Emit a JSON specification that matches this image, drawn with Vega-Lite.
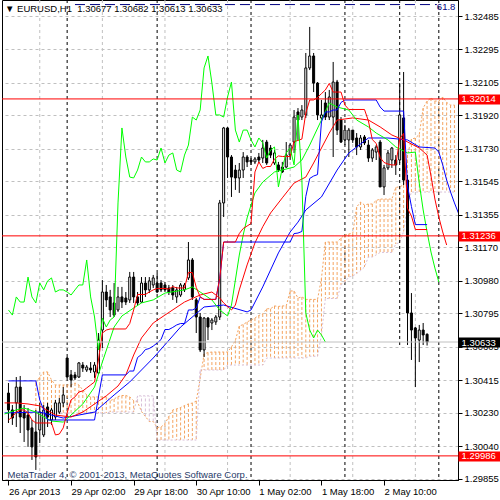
{
"$schema":"https://vega.github.io/schema/vega-lite/v6.json",
"width":456,"height":480,"autosize":"none",
"padding":{"left":2,"top":0,"right":42,"bottom":20},
"background":"white",
"view":{"stroke":"black","strokeWidth":1},
"config":{"font":"Liberation Sans"},
"title":{"text":"▼ EURUSD,H1\u00a0 1.30677 1.30682 1.30613 1.30633","anchor":"start","frame":"group","orient":"top","offset":-14,"dx":3,"font":"Liberation Sans","fontSize":9.5,"fontWeight":"normal","color":"black"},
"resolve":{"axis":{"x":"independent","y":"independent"}},
"datasets":{
"vgrid":[{"i":8},{"i":24},{"i":40},{"i":56},{"i":72},{"i":88},{"i":104}],
"seps":[{"i":15},{"i":38},{"i":62},{"i":86},{"i":110}],
"vline":[{"i":100,"p0":1.32576,"p1":1.30604}],
"fibo":[{"level":"61.8","p":1.3255,"from":17,"to":109.5}],
"candles":[
{"i":0,"o":1.30343,"h":1.30400,"l":1.30173,"c":1.30247},
{"i":1,"o":1.30247,"h":1.30275,"l":1.30162,"c":1.30201},
{"i":2,"o":1.30287,"h":1.30434,"l":1.30150,"c":1.30377},
{"i":3,"o":1.30377,"h":1.30440,"l":1.30116,"c":1.30207},
{"i":4,"o":1.30235,"h":1.30275,"l":1.30065,"c":1.30201},
{"i":5,"o":1.30218,"h":1.30258,"l":1.30037,"c":1.30133},
{"i":6,"o":1.30145,"h":1.30190,"l":1.29963,"c":1.30037},
{"i":7,"o":1.30122,"h":1.30247,"l":1.29906,"c":1.29980},
{"i":8,"o":1.30133,"h":1.30287,"l":1.30059,"c":1.30235},
{"i":9,"o":1.30105,"h":1.30275,"l":1.30093,"c":1.30247},
{"i":10,"o":1.30264,"h":1.30287,"l":1.30150,"c":1.30207},
{"i":11,"o":1.30190,"h":1.30258,"l":1.30162,"c":1.30247},
{"i":12,"o":1.30207,"h":1.30304,"l":1.30190,"c":1.30287},
{"i":13,"o":1.30235,"h":1.30315,"l":1.30224,"c":1.30287},
{"i":14,"o":1.30287,"h":1.30377,"l":1.30264,"c":1.30332},
{"i":15,"o":1.30542,"h":1.30548,"l":1.30429,"c":1.30434},
{"i":16,"o":1.30446,"h":1.30474,"l":1.30377,"c":1.30417},
{"i":17,"o":1.30446,"h":1.30463,"l":1.30417,"c":1.30429},
{"i":18,"o":1.30434,"h":1.30519,"l":1.30429,"c":1.30514},
{"i":19,"o":1.30502,"h":1.30519,"l":1.30463,"c":1.30485},
{"i":20,"o":1.30474,"h":1.30502,"l":1.30463,"c":1.30491},
{"i":21,"o":1.30485,"h":1.30519,"l":1.30457,"c":1.30474},
{"i":22,"o":1.30463,"h":1.30519,"l":1.30429,"c":1.30502},
{"i":23,"o":1.30457,"h":1.30684,"l":1.30446,"c":1.30644},
{"i":24,"o":1.30701,"h":1.30985,"l":1.30599,"c":1.30917},
{"i":25,"o":1.30917,"h":1.30957,"l":1.30832,"c":1.30872},
{"i":26,"o":1.30889,"h":1.30929,"l":1.30775,"c":1.30815},
{"i":27,"o":1.30855,"h":1.30968,"l":1.30775,"c":1.30786},
{"i":28,"o":1.30815,"h":1.30946,"l":1.30804,"c":1.30889},
{"i":29,"o":1.30889,"h":1.30946,"l":1.30826,"c":1.30860},
{"i":30,"o":1.30883,"h":1.30917,"l":1.30843,"c":1.30860},
{"i":31,"o":1.30872,"h":1.31031,"l":1.30855,"c":1.31002},
{"i":32,"o":1.31002,"h":1.31031,"l":1.30855,"c":1.30889},
{"i":33,"o":1.30889,"h":1.30917,"l":1.30843,"c":1.30855},
{"i":34,"o":1.30860,"h":1.31002,"l":1.30855,"c":1.30968},
{"i":35,"o":1.30968,"h":1.31002,"l":1.30889,"c":1.30929},
{"i":36,"o":1.30929,"h":1.31002,"l":1.30911,"c":1.30980},
{"i":37,"o":1.30957,"h":1.31014,"l":1.30940,"c":1.30997},
{"i":38,"o":1.30968,"h":1.31025,"l":1.30911,"c":1.30917},
{"i":39,"o":1.30968,"h":1.30985,"l":1.30917,"c":1.30929},
{"i":40,"o":1.30957,"h":1.30974,"l":1.30917,"c":1.30929},
{"i":41,"o":1.30940,"h":1.30957,"l":1.30900,"c":1.30917},
{"i":42,"o":1.30940,"h":1.30957,"l":1.30872,"c":1.30900},
{"i":43,"o":1.30889,"h":1.30946,"l":1.30855,"c":1.30929},
{"i":44,"o":1.30900,"h":1.30968,"l":1.30889,"c":1.30957},
{"i":45,"o":1.30929,"h":1.30968,"l":1.30917,"c":1.30957},
{"i":46,"o":1.30997,"h":1.31201,"l":1.30985,"c":1.31099},
{"i":47,"o":1.31099,"h":1.31110,"l":1.30872,"c":1.30889},
{"i":48,"o":1.30872,"h":1.30883,"l":1.30684,"c":1.30775},
{"i":49,"o":1.30775,"h":1.30798,"l":1.30576,"c":1.30588},
{"i":50,"o":1.30588,"h":1.30775,"l":1.30548,"c":1.30769},
{"i":51,"o":1.30769,"h":1.30775,"l":1.30644,"c":1.30718},
{"i":52,"o":1.30741,"h":1.30769,"l":1.30701,"c":1.30758},
{"i":53,"o":1.30747,"h":1.30786,"l":1.30730,"c":1.30775},
{"i":54,"o":1.30775,"h":1.31440,"l":1.30758,"c":1.31423},
{"i":55,"o":1.31423,"h":1.31855,"l":1.31343,"c":1.31849},
{"i":56,"o":1.31849,"h":1.31855,"l":1.31565,"c":1.31684},
{"i":57,"o":1.31684,"h":1.31695,"l":1.31457,"c":1.31570},
{"i":58,"o":1.31610,"h":1.31639,"l":1.31497,"c":1.31565},
{"i":59,"o":1.31565,"h":1.31650,"l":1.31480,"c":1.31610},
{"i":60,"o":1.31610,"h":1.31712,"l":1.31565,"c":1.31684},
{"i":61,"o":1.31684,"h":1.31695,"l":1.31627,"c":1.31656},
{"i":62,"o":1.31667,"h":1.31678,"l":1.31639,"c":1.31656},
{"i":63,"o":1.31656,"h":1.31684,"l":1.31644,"c":1.31673},
{"i":64,"o":1.31684,"h":1.31707,"l":1.31650,"c":1.31667},
{"i":65,"o":1.31678,"h":1.31781,"l":1.31650,"c":1.31735},
{"i":66,"o":1.31769,"h":1.31781,"l":1.31639,"c":1.31650},
{"i":67,"o":1.31735,"h":1.31752,"l":1.31678,"c":1.31695},
{"i":68,"o":1.31650,"h":1.31724,"l":1.31639,"c":1.31707},
{"i":69,"o":1.31639,"h":1.31656,"l":1.31599,"c":1.31610},
{"i":70,"o":1.31627,"h":1.31656,"l":1.31593,"c":1.31599},
{"i":71,"o":1.31627,"h":1.31769,"l":1.31622,"c":1.31695},
{"i":72,"o":1.31695,"h":1.31764,"l":1.31667,"c":1.31752},
{"i":73,"o":1.31769,"h":1.31951,"l":1.31707,"c":1.31911},
{"i":74,"o":1.31940,"h":1.31962,"l":1.31781,"c":1.31894},
{"i":75,"o":1.31911,"h":1.31979,"l":1.31894,"c":1.31951},
{"i":76,"o":1.31923,"h":1.32275,"l":1.31906,"c":1.32190},
{"i":77,"o":1.32190,"h":1.32423,"l":1.32178,"c":1.32258},
{"i":78,"o":1.32258,"h":1.32275,"l":1.32053,"c":1.32104},
{"i":79,"o":1.32104,"h":1.32110,"l":1.31894,"c":1.31923},
{"i":80,"o":1.31906,"h":1.32008,"l":1.31894,"c":1.31923},
{"i":81,"o":1.31991,"h":1.32053,"l":1.31894,"c":1.31911},
{"i":82,"o":1.31911,"h":1.32065,"l":1.31894,"c":1.32025},
{"i":83,"o":1.31911,"h":1.32224,"l":1.31684,"c":1.32110},
{"i":84,"o":1.32110,"h":1.32122,"l":1.31809,"c":1.31837},
{"i":85,"o":1.31894,"h":1.31911,"l":1.31764,"c":1.31769},
{"i":86,"o":1.31781,"h":1.31866,"l":1.31752,"c":1.31837},
{"i":87,"o":1.31781,"h":1.31849,"l":1.31684,"c":1.31837},
{"i":88,"o":1.31837,"h":1.31837,"l":1.31764,"c":1.31781},
{"i":89,"o":1.31792,"h":1.31820,"l":1.31695,"c":1.31741},
{"i":90,"o":1.31741,"h":1.31809,"l":1.31724,"c":1.31792},
{"i":91,"o":1.31798,"h":1.31809,"l":1.31752,"c":1.31764},
{"i":92,"o":1.31752,"h":1.31781,"l":1.31656,"c":1.31678},
{"i":93,"o":1.31678,"h":1.31735,"l":1.31656,"c":1.31724},
{"i":94,"o":1.31712,"h":1.31752,"l":1.31667,"c":1.31741},
{"i":95,"o":1.31769,"h":1.31781,"l":1.31514,"c":1.31514},
{"i":96,"o":1.31514,"h":1.31639,"l":1.31468,"c":1.31622},
{"i":97,"o":1.31622,"h":1.31724,"l":1.31610,"c":1.31707},
{"i":98,"o":1.31667,"h":1.31741,"l":1.31622,"c":1.31735},
{"i":99,"o":1.31667,"h":1.31695,"l":1.31582,"c":1.31639},
{"i":100,"o":1.31667,"h":1.32104,"l":1.31650,"c":1.31923},
{"i":101,"o":1.31906,"h":1.32167,"l":1.31525,"c":1.31553},
{"i":102,"o":1.31553,"h":1.31582,"l":1.30616,"c":1.30798},
{"i":103,"o":1.30798,"h":1.30911,"l":1.30531,"c":1.30701},
{"i":104,"o":1.30713,"h":1.30718,"l":1.30377,"c":1.30656},
{"i":105,"o":1.30644,"h":1.30730,"l":1.30519,"c":1.30701},
{"i":106,"o":1.30701,"h":1.30741,"l":1.30616,"c":1.30673},
{"i":107,"o":1.30677,"h":1.30682,"l":1.30613,"c":1.30633}
],
"tenkan":[
{"i":0,"v":1.30190},{"i":1,"v":1.30207},{"i":2,"v":1.30235},{"i":3,"v":1.30247},{"i":4,"v":1.30247},{"i":5,"v":1.30230},{"i":6,"v":1.30190},{"i":7,"v":1.30173},{"i":11,"v":1.30173},{"i":12,"v":1.30105},{"i":13,"v":1.30110},{"i":14,"v":1.30145},{"i":15,"v":1.30230},{"i":16,"v":1.30304},{"i":17,"v":1.30321},{"i":18,"v":1.30349},{"i":19,"v":1.30355},{"i":20,"v":1.30372},{"i":21,"v":1.30389},{"i":22,"v":1.30406},{"i":23,"v":1.30531},{"i":24,"v":1.30684},{"i":25,"v":1.30701},{"i":26,"v":1.30707},{"i":30,"v":1.30707},{"i":31,"v":1.30738},{"i":32,"v":1.30815},{"i":33,"v":1.30903},{"i":35,"v":1.30903},{"i":36,"v":1.30917},{"i":37,"v":1.30929},{"i":38,"v":1.30937},{"i":40,"v":1.30937},{"i":41,"v":1.30934},{"i":42,"v":1.30948},{"i":43,"v":1.30940},{"i":45,"v":1.30940},{"i":46,"v":1.31028},{"i":47,"v":1.31028},{"i":48,"v":1.30943},{"i":49,"v":1.30889},{"i":50,"v":1.30875},{"i":53,"v":1.30875},{"i":54,"v":1.30994},{"i":55,"v":1.31201},{"i":58,"v":1.31201},{"i":59,"v":1.31249},{"i":60,"v":1.31278},{"i":61,"v":1.31292},{"i":62,"v":1.31306},{"i":63,"v":1.31599},{"i":64,"v":1.31656},{"i":65,"v":1.31619},{"i":66,"v":1.31630},{"i":67,"v":1.31630},{"i":68,"v":1.31673},{"i":69,"v":1.31690},{"i":70,"v":1.31687},{"i":72,"v":1.31687},{"i":73,"v":1.31772},{"i":74,"v":1.31778},{"i":75,"v":1.31786},{"i":76,"v":1.31934},{"i":77,"v":1.32008},{"i":78,"v":1.32008},{"i":79,"v":1.32022},{"i":80,"v":1.32044},{"i":81,"v":1.32065},{"i":82,"v":1.32102},{"i":83,"v":1.32053},{"i":85,"v":1.32053},{"i":86,"v":1.31979},{"i":87,"v":1.31954},{"i":91,"v":1.31954},{"i":92,"v":1.31889},{"i":93,"v":1.31783},{"i":94,"v":1.31761},{"i":95,"v":1.31681},{"i":96,"v":1.31653},{"i":97,"v":1.31644},{"i":98,"v":1.31639},{"i":99,"v":1.31639},{"i":100,"v":1.31786},{"i":101,"v":1.31818},{"i":102,"v":1.31392},{"i":103,"v":1.31349},{"i":104,"v":1.31272},{"i":107,"v":1.31272}
],
"kijun":[
{"i":0,"v":1.30412},{"i":7,"v":1.30412},{"i":8,"v":1.30304},{"i":9,"v":1.30247},{"i":10,"v":1.30190},{"i":22,"v":1.30190},{"i":23,"v":1.30321},{"i":24,"v":1.30446},{"i":30,"v":1.30446},{"i":31,"v":1.30468},{"i":32,"v":1.30468},{"i":33,"v":1.30545},{"i":34,"v":1.30562},{"i":35,"v":1.30590},{"i":36,"v":1.30596},{"i":37,"v":1.30610},{"i":38,"v":1.30627},{"i":39,"v":1.30647},{"i":40,"v":1.30704},{"i":41,"v":1.30704},{"i":42,"v":1.30716},{"i":43,"v":1.30730},{"i":44,"v":1.30738},{"i":45,"v":1.30738},{"i":46,"v":1.30815},{"i":47,"v":1.30815},{"i":48,"v":1.30825},{"i":49,"v":1.30889},{"i":50,"v":1.30875},{"i":53,"v":1.30875},{"i":54,"v":1.30994},{"i":55,"v":1.31201},{"i":72,"v":1.31201},{"i":73,"v":1.31249},{"i":74,"v":1.31252},{"i":75,"v":1.31261},{"i":76,"v":1.31460},{"i":77,"v":1.31562},{"i":78,"v":1.31576},{"i":79,"v":1.31584},{"i":80,"v":1.31883},{"i":81,"v":1.31940},{"i":82,"v":1.31940},{"i":83,"v":1.31951},{"i":84,"v":1.31951},{"i":85,"v":1.31994},{"i":86,"v":1.32008},{"i":94,"v":1.32008},{"i":95,"v":1.31968},{"i":96,"v":1.31945},{"i":101,"v":1.31945},{"i":102,"v":1.31519},{"i":103,"v":1.31403},{"i":104,"v":1.31300},{"i":107,"v":1.31300}
],
"chikou":[
{"i":0,"v":1.30815},{"i":1,"v":1.30786},{"i":2,"v":1.30889},{"i":3,"v":1.30860},{"i":4,"v":1.30860},{"i":5,"v":1.31002},{"i":6,"v":1.30889},{"i":7,"v":1.30855},{"i":8,"v":1.30968},{"i":9,"v":1.30929},{"i":10,"v":1.30980},{"i":11,"v":1.30997},{"i":12,"v":1.30917},{"i":13,"v":1.30929},{"i":14,"v":1.30929},{"i":15,"v":1.30917},{"i":16,"v":1.30900},{"i":17,"v":1.30929},{"i":18,"v":1.30957},{"i":19,"v":1.30957},{"i":20,"v":1.31099},{"i":21,"v":1.30889},{"i":22,"v":1.30775},{"i":23,"v":1.30588},{"i":24,"v":1.30769},{"i":25,"v":1.30718},{"i":26,"v":1.30758},{"i":27,"v":1.30775},{"i":28,"v":1.31423},{"i":29,"v":1.31849},{"i":30,"v":1.31684},{"i":31,"v":1.31570},{"i":32,"v":1.31565},{"i":33,"v":1.31610},{"i":34,"v":1.31684},{"i":35,"v":1.31656},{"i":36,"v":1.31656},{"i":37,"v":1.31673},{"i":38,"v":1.31667},{"i":39,"v":1.31735},{"i":40,"v":1.31650},{"i":41,"v":1.31695},{"i":42,"v":1.31707},{"i":43,"v":1.31610},{"i":44,"v":1.31599},{"i":45,"v":1.31695},{"i":46,"v":1.31752},{"i":47,"v":1.31911},{"i":48,"v":1.31894},{"i":49,"v":1.31951},{"i":50,"v":1.32190},{"i":51,"v":1.32258},{"i":52,"v":1.32104},{"i":53,"v":1.31923},{"i":54,"v":1.31923},{"i":55,"v":1.31911},{"i":56,"v":1.32025},{"i":57,"v":1.32110},{"i":58,"v":1.31837},{"i":59,"v":1.31769},{"i":60,"v":1.31837},{"i":61,"v":1.31837},{"i":62,"v":1.31781},{"i":63,"v":1.31741},{"i":64,"v":1.31792},{"i":65,"v":1.31764},{"i":66,"v":1.31678},{"i":67,"v":1.31724},{"i":68,"v":1.31741},{"i":69,"v":1.31514},{"i":70,"v":1.31622},{"i":71,"v":1.31707},{"i":72,"v":1.31735},{"i":73,"v":1.31639},{"i":74,"v":1.31923},{"i":75,"v":1.31553},{"i":76,"v":1.30798},{"i":77,"v":1.30701},{"i":78,"v":1.30656},{"i":79,"v":1.30701},{"i":80,"v":1.30673},{"i":81,"v":1.30633}
],
"jaw":[
{"i":-1,"v":1.30230},{"i":8,"v":1.30235},{"i":14,"v":1.30201},{"i":22,"v":1.30235},{"i":27,"v":1.30332},{"i":31,"v":1.30406},{"i":37,"v":1.30542},{"i":44,"v":1.30718},{"i":50,"v":1.30832},{"i":55,"v":1.30843},{"i":61,"v":1.30804},{"i":62,"v":1.30815},{"i":65,"v":1.30946},{"i":69,"v":1.31139},{"i":72,"v":1.31258},{"i":74,"v":1.31314},{"i":76,"v":1.31383},{"i":80,"v":1.31457},{"i":84,"v":1.31610},{"i":87,"v":1.31707},{"i":92,"v":1.31792},{"i":97,"v":1.31792},{"i":102,"v":1.31781},{"i":105,"v":1.31741},{"i":109,"v":1.31735},{"i":110,"v":1.31712},{"i":111,"v":1.31639},{"i":112,"v":1.31553},{"i":113,"v":1.31485},{"i":114,"v":1.31423},{"i":115,"v":1.31366}
],
"teeth":[
{"i":-1,"v":1.30287},{"i":2,"v":1.30287},{"i":5,"v":1.30281},{"i":8,"v":1.30270},{"i":12,"v":1.30218},{"i":16,"v":1.30207},{"i":19,"v":1.30235},{"i":22,"v":1.30281},{"i":25,"v":1.30327},{"i":28,"v":1.30383},{"i":30,"v":1.30446},{"i":32,"v":1.30559},{"i":34,"v":1.30656},{"i":37,"v":1.30741},{"i":40,"v":1.30786},{"i":45,"v":1.30860},{"i":49,"v":1.30900},{"i":52,"v":1.30917},{"i":54,"v":1.30883},{"i":55,"v":1.30855},{"i":57,"v":1.30815},{"i":58,"v":1.30843},{"i":59,"v":1.30929},{"i":61,"v":1.31071},{"i":63,"v":1.31196},{"i":65,"v":1.31288},{"i":67,"v":1.31366},{"i":70,"v":1.31452},{"i":73,"v":1.31536},{"i":76,"v":1.31570},{"i":78,"v":1.31650},{"i":82,"v":1.31820},{"i":84,"v":1.31894},{"i":88,"v":1.31906},{"i":92,"v":1.31894},{"i":95,"v":1.31855},{"i":98,"v":1.31809},{"i":101,"v":1.31781},{"i":105,"v":1.31735},{"i":107,"v":1.31695},{"i":108,"v":1.31577},{"i":109,"v":1.31445},{"i":110,"v":1.31343},{"i":111,"v":1.31258},{"i":112,"v":1.31184}
],
"lips":[
{"i":-1,"v":1.30224},{"i":2,"v":1.30247},{"i":4,"v":1.30258},{"i":7,"v":1.30235},{"i":9,"v":1.30207},{"i":11,"v":1.30184},{"i":14,"v":1.30178},{"i":16,"v":1.30218},{"i":19,"v":1.30281},{"i":22,"v":1.30377},{"i":24,"v":1.30519},{"i":27,"v":1.30718},{"i":29,"v":1.30781},{"i":32,"v":1.30826},{"i":34,"v":1.30855},{"i":37,"v":1.30872},{"i":40,"v":1.30911},{"i":45,"v":1.30929},{"i":47,"v":1.30946},{"i":49,"v":1.30917},{"i":52,"v":1.30872},{"i":54,"v":1.30815},{"i":56,"v":1.30781},{"i":57,"v":1.30843},{"i":58,"v":1.30985},{"i":59,"v":1.31127},{"i":60,"v":1.31241},{"i":61,"v":1.31338},{"i":62,"v":1.31411},{"i":63,"v":1.31480},{"i":65,"v":1.31542},{"i":68,"v":1.31599},{"i":73,"v":1.31627},{"i":75,"v":1.31667},{"i":77,"v":1.31752},{"i":80,"v":1.31894},{"i":82,"v":1.31991},{"i":84,"v":1.31968},{"i":87,"v":1.31951},{"i":89,"v":1.31894},{"i":92,"v":1.31855},{"i":94,"v":1.31820},{"i":97,"v":1.31781},{"i":99,"v":1.31741},{"i":102,"v":1.31707},{"i":104,"v":1.31712},{"i":105,"v":1.31536},{"i":106,"v":1.31383},{"i":107,"v":1.31258},{"i":108,"v":1.31144},{"i":109,"v":1.31053},{"i":110,"v":1.30974}
],
"cloud":[
{"i":7,"a":1.30400,"b":1.30230},{"i":8,"a":1.30434,"b":1.30230},{"i":9,"a":1.30463,"b":1.30230},{"i":10,"a":1.30463,"b":1.30230},{"i":11,"a":1.30417,"b":1.30230},{"i":12,"a":1.30389,"b":1.30230},{"i":13,"a":1.30389,"b":1.30230},{"i":14,"a":1.30389,"b":1.30230},{"i":15,"a":1.30389,"b":1.30230},{"i":16,"a":1.30389,"b":1.30230},{"i":17,"a":1.30400,"b":1.30230},{"i":18,"a":1.30389,"b":1.30230},{"i":19,"a":1.30360,"b":1.30230},{"i":20,"a":1.30332,"b":1.30230},{"i":21,"a":1.30321,"b":1.30230},{"i":22,"a":1.30321,"b":1.30230},{"i":23,"a":1.30321,"b":1.30230},{"i":24,"a":1.30321,"b":1.30230},{"i":25,"a":1.30321,"b":1.30230},
{"i":26,"a":1.30300,"b":1.30235},{"i":27,"a":1.30309,"b":1.30235},{"i":28,"a":1.30323,"b":1.30235},{"i":29,"a":1.30329,"b":1.30235},{"i":30,"a":1.30329,"b":1.30235},{"i":31,"a":1.30321,"b":1.30235},{"i":32,"a":1.30300,"b":1.30235},
{"i":33,"a":1.30292,"b":1.30327},{"i":34,"a":1.30238,"b":1.30327},{"i":35,"a":1.30210,"b":1.30327},{"i":36,"a":1.30181,"b":1.30327},{"i":37,"a":1.30181,"b":1.30327},
{"i":38,"a":1.30147,"b":1.30076},{"i":39,"a":1.30150,"b":1.30076},{"i":40,"a":1.30169,"b":1.30076},{"i":41,"a":1.30210,"b":1.30076},{"i":42,"a":1.30247,"b":1.30076},{"i":43,"a":1.30253,"b":1.30076},{"i":44,"a":1.30261,"b":1.30076},{"i":45,"a":1.30272,"b":1.30076},{"i":46,"a":1.30281,"b":1.30076},{"i":47,"a":1.30286,"b":1.30076},{"i":48,"a":1.30298,"b":1.30076},
{"i":49,"a":1.30426,"b":1.30474},{"i":50,"a":1.30565,"b":1.30474},{"i":51,"a":1.30573,"b":1.30474},{"i":52,"a":1.30576,"b":1.30474},{"i":53,"a":1.30576,"b":1.30474},{"i":54,"a":1.30576,"b":1.30474},{"i":55,"a":1.30576,"b":1.30474},
{"i":56,"a":1.30576,"b":1.30502},{"i":57,"a":1.30605,"b":1.30502},{"i":58,"a":1.30642,"b":1.30502},{"i":59,"a":1.30724,"b":1.30502},{"i":60,"a":1.30732,"b":1.30502},{"i":61,"a":1.30747,"b":1.30502},{"i":62,"a":1.30758,"b":1.30502},{"i":63,"a":1.30769,"b":1.30502},{"i":64,"a":1.30784,"b":1.30502},{"i":65,"a":1.30792,"b":1.30502},
{"i":66,"a":1.30822,"b":1.30542},{"i":67,"a":1.30822,"b":1.30542},{"i":68,"a":1.30838,"b":1.30542},{"i":69,"a":1.30835,"b":1.30542},{"i":70,"a":1.30838,"b":1.30542},{"i":71,"a":1.30838,"b":1.30542},{"i":72,"a":1.30923,"b":1.30542},{"i":73,"a":1.30923,"b":1.30542},{"i":74,"a":1.30883,"b":1.30542},{"i":75,"a":1.30889,"b":1.30542},{"i":76,"a":1.30875,"b":1.30542},
{"i":77,"a":1.30875,"b":1.30552},{"i":78,"a":1.30875,"b":1.30552},{"i":79,"a":1.30875,"b":1.30552},{"i":80,"a":1.30994,"b":1.30673},{"i":81,"a":1.31201,"b":1.30880},{"i":82,"a":1.31201,"b":1.30880},{"i":83,"a":1.31201,"b":1.30880},{"i":84,"a":1.31201,"b":1.30880},{"i":85,"a":1.31224,"b":1.30957},{"i":86,"a":1.31241,"b":1.30974},{"i":87,"a":1.31247,"b":1.31002},{"i":88,"a":1.31250,"b":1.31008},{"i":89,"a":1.31400,"b":1.31022},{"i":90,"a":1.31428,"b":1.31039},{"i":91,"a":1.31411,"b":1.31059},{"i":92,"a":1.31417,"b":1.31116},{"i":93,"a":1.31417,"b":1.31116},{"i":94,"a":1.31437,"b":1.31128},{"i":95,"a":1.31445,"b":1.31142},{"i":96,"a":1.31445,"b":1.31142},{"i":97,"a":1.31445,"b":1.31142},{"i":98,"a":1.31445,"b":1.31142},{"i":99,"a":1.31511,"b":1.31190},{"i":100,"a":1.31515,"b":1.31198},{"i":101,"a":1.31525,"b":1.31261},{"i":102,"a":1.31695,"b":1.31411},{"i":103,"a":1.31786,"b":1.31485},{"i":104,"a":1.31792,"b":1.31485},{"i":105,"a":1.31812,"b":1.31485},{"i":106,"a":1.31962,"b":1.31485},{"i":107,"a":1.32002,"b":1.31485},{"i":108,"a":1.32019,"b":1.31485},{"i":109,"a":1.32002,"b":1.31485},{"i":110,"a":1.32002,"b":1.31485},{"i":111,"a":1.32025,"b":1.31485},{"i":112,"a":1.31994,"b":1.31485},{"i":113,"a":1.31979,"b":1.31485},{"i":114,"a":1.31979,"b":1.31485}
],
"levels":[{"p":1.32014,"k":"level"},{"p":1.31236,"k":"level"},{"p":1.30633,"k":"bid"},{"p":1.29986,"k":"level"}]
},
"layer":[
{"data":{"name":"vgrid"},"mark":{"type":"rule","color":"#C0C0C0","strokeDash":[3,3]},
 "encoding":{"x":{"field":"i","type":"quantitative","scale":{"domain":[-0.375,113.625],"nice":false,"zero":false},
 "axis":{"orient":"bottom","values":[0,16,32,48,64,80,96],"labelExpr":"datum.value == 0 ? '26 Apr 2013' : datum.value == 16 ? '29 Apr 02:00' : datum.value == 32 ? '29 Apr 18:00' : datum.value == 48 ? '30 Apr 10:00' : datum.value == 64 ? '1 May 02:00' : datum.value == 80 ? '1 May 18:00' : '2 May 10:00'","tickSize":5,"tickColor":"black","domainColor":"black","labelColor":"black","labelFont":"Liberation Sans","labelFontSize":9.5,"labelAlign":"left","labelBaseline":"top","labelPadding":1,"grid":false,"labelOverlap":false,"labelFlush":false,
 "title":"MetaTrader 4, © 2001-2013, MetaQuotes Software Corp.","titleX":5,"titleY":-6,"titleAlign":"left","titleBaseline":"middle","titleAnchor":"start","titleFont":"Liberation Sans","titleFontSize":9.5,"titleFontWeight":"normal","titleColor":"#1F3A68"}}}},
{"data":{"name":"seps"},"mark":{"type":"rule","color":"black","strokeDash":[3,3]},
 "encoding":{"x":{"field":"i","type":"quantitative","scale":{"domain":[-0.375,113.625],"nice":false,"zero":false},"axis":null}}},
{"data":{"name":"cloud"},"mark":{"type":"rule","strokeDash":[3,2],"clip":true},
 "encoding":{"x":{"field":"i","type":"quantitative","scale":{"domain":[-0.375,113.625],"nice":false,"zero":false},"axis":null},
 "y":{"field":"a","type":"quantitative","scale":{"domain":[1.29849,1.32576],"nice":false,"zero":false},
 "axis":{"orient":"right","values":[1.29855,1.3004,1.3023,1.30415,1.30605,1.30795,1.3098,1.3117,1.31355,1.31545,1.3173,1.3192,1.32105,1.32295,1.32485],"format":".5f","tickSize":4,"tickColor":"black","domainColor":"black","labelColor":"black","labelFont":"Liberation Sans","labelFontSize":9.5,"labelPadding":2,"grid":true,"gridColor":"#C0C0C0","gridDash":[3,3],"title":null,"labelOverlap":false,"labelFlush":false,"zindex":0}},
 "y2":{"field":"b"},
 "color":{"condition":{"test":"datum.a > datum.b","value":"#F4A460"},"value":"#D8BFD8"}}},
{"data":{"name":"cloud"},"mark":{"type":"line","color":"#F4A460","strokeWidth":1,"strokeDash":[2,2],"clip":true},
 "encoding":{"x":{"field":"i","type":"quantitative","scale":{"domain":[-0.375,113.625],"nice":false,"zero":false},"axis":null},
 "y":{"field":"a","type":"quantitative","scale":{"domain":[1.29849,1.32576],"nice":false,"zero":false},"axis":null}}},
{"data":{"name":"cloud"},"mark":{"type":"line","color":"#D8BFD8","strokeWidth":1,"strokeDash":[2,2],"clip":true},
 "encoding":{"x":{"field":"i","type":"quantitative","scale":{"domain":[-0.375,113.625],"nice":false,"zero":false},"axis":null},
 "y":{"field":"b","type":"quantitative","scale":{"domain":[1.29849,1.32576],"nice":false,"zero":false},"axis":null}}},
{"data":{"name":"vline"},"mark":{"type":"rule","color":"black","strokeDash":[3,3],"strokeWidth":1},
 "encoding":{"x":{"field":"i","type":"quantitative","scale":{"domain":[-0.375,113.625],"nice":false,"zero":false},"axis":null},
 "y":{"field":"p0","type":"quantitative","scale":{"domain":[1.29849,1.32576],"nice":false,"zero":false},"axis":null},"y2":{"field":"p1"}}},
{"data":{"name":"candles"},"mark":{"type":"rule","color":"black","strokeWidth":1},
 "encoding":{"x":{"field":"i","type":"quantitative","scale":{"domain":[-0.375,113.625],"nice":false,"zero":false},"axis":null},
 "y":{"field":"l","type":"quantitative","scale":{"domain":[1.29849,1.32576],"nice":false,"zero":false},"axis":null},"y2":{"field":"h"}}},
{"data":{"name":"candles"},"mark":{"type":"bar","size":2,"stroke":"black","strokeWidth":1},
 "encoding":{"x":{"field":"i","type":"quantitative","scale":{"domain":[-0.375,113.625],"nice":false,"zero":false},"axis":null},
 "y":{"field":"o","type":"quantitative","scale":{"domain":[1.29849,1.32576],"nice":false,"zero":false},"axis":null},"y2":{"field":"c"},
 "fill":{"condition":{"test":"datum.c > datum.o","value":"white"},"value":"black"}}},
{"data":{"name":"jaw"},"mark":{"type":"line","color":"#0000FF","strokeWidth":1,"clip":true},
 "encoding":{"x":{"field":"i","type":"quantitative","scale":{"domain":[-0.375,113.625],"nice":false,"zero":false},"axis":null},
 "y":{"field":"v","type":"quantitative","scale":{"domain":[1.29849,1.32576],"nice":false,"zero":false},"axis":null}}},
{"data":{"name":"teeth"},"mark":{"type":"line","color":"#FF0000","strokeWidth":1,"clip":true},
 "encoding":{"x":{"field":"i","type":"quantitative","scale":{"domain":[-0.375,113.625],"nice":false,"zero":false},"axis":null},
 "y":{"field":"v","type":"quantitative","scale":{"domain":[1.29849,1.32576],"nice":false,"zero":false},"axis":null}}},
{"data":{"name":"lips"},"mark":{"type":"line","color":"#00FF00","strokeWidth":1,"clip":true},
 "encoding":{"x":{"field":"i","type":"quantitative","scale":{"domain":[-0.375,113.625],"nice":false,"zero":false},"axis":null},
 "y":{"field":"v","type":"quantitative","scale":{"domain":[1.29849,1.32576],"nice":false,"zero":false},"axis":null}}},
{"data":{"name":"kijun"},"mark":{"type":"line","color":"#0000FF","strokeWidth":1,"clip":true},
 "encoding":{"x":{"field":"i","type":"quantitative","scale":{"domain":[-0.375,113.625],"nice":false,"zero":false},"axis":null},
 "y":{"field":"v","type":"quantitative","scale":{"domain":[1.29849,1.32576],"nice":false,"zero":false},"axis":null}}},
{"data":{"name":"tenkan"},"mark":{"type":"line","color":"#FF0000","strokeWidth":1,"clip":true},
 "encoding":{"x":{"field":"i","type":"quantitative","scale":{"domain":[-0.375,113.625],"nice":false,"zero":false},"axis":null},
 "y":{"field":"v","type":"quantitative","scale":{"domain":[1.29849,1.32576],"nice":false,"zero":false},"axis":null}}},
{"data":{"name":"chikou"},"mark":{"type":"line","color":"#00FF00","strokeWidth":1,"clip":true},
 "encoding":{"x":{"field":"i","type":"quantitative","scale":{"domain":[-0.375,113.625],"nice":false,"zero":false},"axis":null},
 "y":{"field":"v","type":"quantitative","scale":{"domain":[1.29849,1.32576],"nice":false,"zero":false},"axis":null}}},
{"data":{"name":"fibo"},"mark":{"type":"rule","color":"#000080","strokeDash":[10,5],"strokeWidth":1},
 "encoding":{"x":{"field":"from","type":"quantitative","scale":{"domain":[-0.375,113.625],"nice":false,"zero":false},"axis":null},"x2":{"field":"to"},
 "y":{"field":"p","type":"quantitative","scale":{"domain":[1.29849,1.32576],"nice":false,"zero":false},"axis":null}}},
{"data":{"name":"fibo"},"mark":{"type":"text","color":"#000080","align":"left","baseline":"middle","font":"Liberation Sans","fontSize":9.5,"dy":2},
 "encoding":{"x":{"field":"to","type":"quantitative","scale":{"domain":[-0.375,113.625],"nice":false,"zero":false},"axis":null},
 "y":{"field":"p","type":"quantitative","scale":{"domain":[1.29849,1.32576],"nice":false,"zero":false},"axis":null},
 "text":{"field":"level"}}},
{"data":{"name":"levels"},"mark":{"type":"rule","strokeWidth":1},
 "encoding":{"y":{"field":"p","type":"quantitative","scale":{"domain":[1.29849,1.32576],"nice":false,"zero":false},
 "axis":{"orient":"right","values":[1.32014,1.31236,1.30633,1.29986],"format":".5f","domain":false,"grid":false,"ticks":true,"tickSize":42,"tickWidth":10,"tickColor":{"condition":{"test":"abs(datum.value - 1.30633) < 0.00001","value":"#000000"},"value":"#FF0000"},"labelColor":"white","labelPadding":-39,"labelFont":"Liberation Sans","labelFontSize":9.5,"title":null,"labelOverlap":false,"labelFlush":false,"zindex":1}},
 "color":{"condition":{"test":"datum.k === 'bid'","value":"#C0C0C0"},"value":"#FF0000"}}}
]
}
